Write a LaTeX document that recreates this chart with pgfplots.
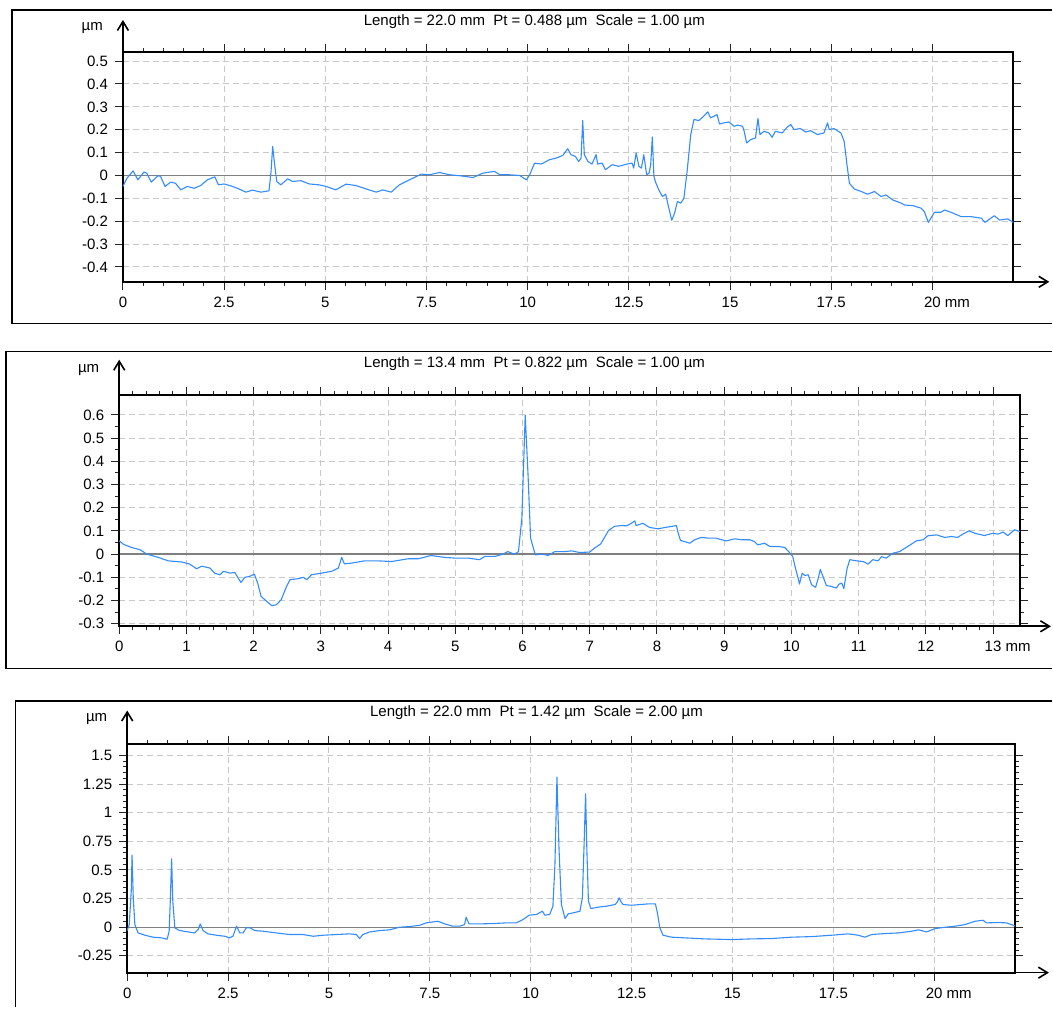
\documentclass[border=0pt]{standalone}
\usepackage{fontspec}
\setmainfont{Liberation Sans}
\usepackage{pgfplots}
\pgfplotsset{compat=1.18}
\usetikzlibrary{arrows.meta}

\definecolor{prof}{RGB}{50,140,255}
\definecolor{gridc}{RGB}{200,200,200}
\newcommand{\lbl}{\fontsize{7.5}{9}\selectfont}

\tikzset{fleche/.style={line width=0.8pt, -{Straight Barb[length=4.5pt,width=5.5pt]}}}
\pgfplotsset{
  profil/.style={
    scale only axis, set layers, clip=false,
    anchor=south west,
    tick align=outside,
    major tick length=4pt, minor tick length=2pt,
    tick style={black!85, line width=0.5pt},
    axis line style={line width=1pt},
    grid=major,
    major grid style={gridc, dash pattern=on 3pt off 2pt, line width=0.5pt},
    ticklabel style={font=\lbl},
    /pgf/number format/assume math mode=true,
    extra y ticks={0}, extra y tick labels={},
    extra y tick style={grid=major, major grid style={solid, gray, line width=0.65pt}, tick style={draw=none}},
  },
  profline/.style={prof, line width=0.55pt, line join=round, no markers},
}

\begin{document}
\begin{tikzpicture}
\path (0,0) rectangle (526.5pt,504pt);

% cadres
\draw[line width=0.7pt] (526.5pt,499pt) -- (6pt,499pt) -- (6pt,342pt) -- (526.5pt,342pt);
\draw[line width=0.7pt] (526.5pt,328pt) -- (3pt,328pt) -- (3pt,169.5pt) -- (526.5pt,169.5pt);
\draw[line width=0.7pt] (526.5pt,153.2pt) -- (7.85pt,153.2pt) -- (7.85pt,0pt);

% profil 1
\begin{axis}[profil,
  at={(61.5pt,363pt)}, width=445.5pt, height=115pt,
  xmin=0, xmax=22, ymin=-0.465, ymax=0.54,
  xtick={0,2.5,...,20}, minor x tick num=4,
  xticklabels={0,2.5,5,7.5,10,12.5,15,17.5,20\rlap{ mm}},
  ytick={-0.4,-0.3,...,0.5},
  yticklabels={-0.4,-0.3,-0.2,-0.1,0,0.1,0.2,0.3,0.4,0.5},
]
\addplot[profline] coordinates {
(0,-0.048)(0.1,-0.012)(0.25,0.02)(0.37,-0.019)(0.52,0.015)(0.59,0.01)(0.70,-0.029)(0.87,-0.001)(0.93,-0.004)(1.04,-0.048)(1.18,-0.029)(1.30,-0.034)(1.43,-0.063)(1.59,-0.048)(1.76,-0.056)(1.92,-0.044)(2.09,-0.019)(2.27,-0.006)(2.36,-0.041)(2.5,-0.037)(2.71,-0.048)(2.87,-0.059)(3.04,-0.073)(3.20,-0.064)(3.41,-0.073)(3.61,-0.067)(3.66,0.018)(3.70,0.127)(3.74,0.061)(3.80,-0.026)(3.90,-0.041)(4.07,-0.015)(4.19,-0.026)(4.40,-0.023)(4.60,-0.037)(4.85,-0.041)(5.02,-0.048)(5.26,-0.063)(5.51,-0.038)(5.76,-0.044)(6.01,-0.059)(6.26,-0.073)(6.42,-0.063)(6.63,-0.073)(6.83,-0.041)(7.0,-0.026)(7.20,-0.009)(7.37,0.006)(7.57,0.003)(7.82,0.013)(8.07,0.003)(8.32,-0.001)(8.65,-0.009)(8.89,0.01)(9.18,0.018)(9.31,0.003)(9.55,0.003)(9.80,0)(9.97,-0.019)(10.05,0.003)(10.17,0.054)(10.34,0.05)(10.54,0.069)(10.71,0.076)(10.87,0.088)(10.99,0.117)(11.07,0.091)(11.18,0.083)(11.26,0.061)(11.32,0.076)(11.36,0.24)(11.40,0.091)(11.49,0.061)(11.59,0.05)(11.69,0.091)(11.73,0.05)(11.84,0.054)(11.92,0.025)(12.09,0.047)(12.25,0.04)(12.46,0.05)(12.58,0.054)(12.62,0.032)(12.68,0.098)(12.75,0.04)(12.81,0.032)(12.87,0.091)(12.94,0.003)(13.0,0.01)(13.04,0.047)(13.08,0.168)(13.12,-0.004)(13.16,-0.029)(13.24,-0.063)(13.33,-0.092)(13.41,-0.082)(13.47,-0.129)(13.56,-0.196)(13.63,-0.165)(13.70,-0.114)(13.78,-0.121)(13.86,-0.1)(13.94,0.018)(14.03,0.179)(14.11,0.245)(14.23,0.24)(14.35,0.259)(14.45,0.278)(14.52,0.252)(14.60,0.259)(14.68,0.266)(14.74,0.225)(14.85,0.23)(14.97,0.234)(15.10,0.215)(15.18,0.22)(15.31,0.215)(15.35,0.193)(15.41,0.142)(15.51,0.157)(15.63,0.164)(15.69,0.249)(15.74,0.179)(15.84,0.193)(15.96,0.186)(16.04,0.167)(16.12,0.193)(16.29,0.186)(16.41,0.211)(16.5,0.223)(16.58,0.201)(16.74,0.205)(16.87,0.19)(16.99,0.196)(17.16,0.179)(17.32,0.186)(17.41,0.23)(17.45,0.201)(17.57,0.205)(17.74,0.186)(17.82,0.149)(17.89,0.047)(17.95,-0.034)(18.07,-0.059)(18.24,-0.07)(18.40,-0.082)(18.57,-0.07)(18.73,-0.092)(18.85,-0.085)(19.02,-0.107)(19.23,-0.121)(19.31,-0.129)(19.52,-0.132)(19.72,-0.143)(19.80,-0.158)(19.90,-0.205)(20.05,-0.161)(20.21,-0.161)(20.30,-0.151)(20.46,-0.161)(20.71,-0.18)(20.96,-0.18)(21.21,-0.187)(21.30,-0.205)(21.53,-0.176)(21.66,-0.195)(21.86,-0.19)(22.0,-0.205)
};
\draw[fleche] (rel axis cs:0,1) -- ++(0pt,16pt);
\draw[fleche] (rel axis cs:1,0) -- ++(18pt,0pt);
\node[anchor=east, font=\lbl] at ([xshift=-6.5pt,yshift=12pt]rel axis cs:0,1) {µm};
\node[font=\lbl] at ([yshift=15pt]rel axis cs:0.462,1) {Length = 22.0 mm\ \ Pt = 0.488 µm\ \ Scale = 1.00 µm};
\end{axis}

% profil 2
\begin{axis}[profil,
  at={(59.65pt,190.65pt)}, width=450.65pt, height=115.85pt,
  xmin=0, xmax=13.4, ymin=-0.311, ymax=0.687,
  xtick={0,1,...,13}, minor x tick num=4,
  xticklabels={0,1,2,3,4,5,6,7,8,9,10,11,12,13\rlap{ mm}},
  ytick={-0.3,-0.2,...,0.6}, minor y tick num=1,
  yticklabels={-0.3,-0.2,-0.1,0,0.1,0.2,0.3,0.4,0.5,0.6},
]
\addplot[profline] coordinates {
(0,0.057)(0.06,0.043)(0.18,0.029)(0.31,0.019)(0.41,0)(0.58,-0.014)(0.73,-0.029)(0.93,-0.034)(1.05,-0.043)(1.15,-0.063)(1.23,-0.052)(1.35,-0.06)(1.42,-0.082)(1.50,-0.089)(1.55,-0.074)(1.65,-0.082)(1.72,-0.079)(1.77,-0.103)(1.81,-0.122)(1.87,-0.1)(1.94,-0.096)(2.01,-0.086)(2.06,-0.125)(2.11,-0.182)(2.18,-0.2)(2.27,-0.222)(2.34,-0.218)(2.41,-0.196)(2.49,-0.139)(2.54,-0.11)(2.66,-0.106)(2.74,-0.1)(2.79,-0.11)(2.86,-0.089)(3.01,-0.082)(3.16,-0.074)(3.26,-0.06)(3.31,-0.014)(3.35,-0.042)(3.45,-0.039)(3.65,-0.029)(3.85,-0.029)(4.05,-0.032)(4.30,-0.02)(4.45,-0.02)(4.64,-0.006)(4.84,-0.014)(4.99,-0.017)(5.19,-0.017)(5.36,-0.024)(5.44,-0.01)(5.59,-0.01)(5.71,0)(5.78,0.011)(5.88,0)(5.94,0.011)(5.99,0.155)(6.04,0.599)(6.08,0.355)(6.12,0.069)(6.19,-0.003)(6.30,0)(6.38,-0.006)(6.48,0.011)(6.63,0.011)(6.73,0.014)(6.85,0.007)(7.0,0.009)(7.07,0.026)(7.16,0.043)(7.22,0.072)(7.28,0.102)(7.37,0.12)(7.47,0.123)(7.55,0.122)(7.62,0.133)(7.67,0.143)(7.69,0.123)(7.79,0.133)(7.89,0.115)(8.02,0.109)(8.12,0.115)(8.21,0.119)(8.29,0.123)(8.31,0.097)(8.35,0.059)(8.41,0.054)(8.49,0.047)(8.56,0.062)(8.66,0.072)(8.76,0.069)(8.88,0.069)(8.96,0.062)(9.03,0.057)(9.16,0.066)(9.26,0.062)(9.38,0.062)(9.45,0.054)(9.50,0.04)(9.60,0.047)(9.68,0.033)(9.80,0.033)(9.90,0.029)(9.96,0.011)(10.02,-0.01)(10.06,-0.06)(10.10,-0.103)(10.12,-0.129)(10.16,-0.082)(10.20,-0.092)(10.25,-0.089)(10.30,-0.132)(10.36,-0.143)(10.40,-0.103)(10.43,-0.066)(10.47,-0.096)(10.52,-0.135)(10.59,-0.139)(10.67,-0.146)(10.71,-0.129)(10.75,-0.125)(10.78,-0.149)(10.83,-0.06)(10.87,-0.024)(10.97,-0.029)(11.07,-0.032)(11.14,-0.043)(11.21,-0.024)(11.29,-0.029)(11.34,-0.011)(11.41,-0.017)(11.51,0.004)(11.61,0.011)(11.73,0.033)(11.86,0.057)(11.96,0.062)(12.03,0.079)(12.16,0.083)(12.28,0.072)(12.38,0.076)(12.47,0.072)(12.55,0.086)(12.64,0.1)(12.73,0.09)(12.87,0.08)(13.0,0.09)(13.07,0.086)(13.15,0.095)(13.22,0.08)(13.32,0.105)(13.40,0.097)
};
\draw[fleche] (rel axis cs:0,1) -- ++(0pt,17.5pt);
\draw[fleche] (rel axis cs:1,0) -- ++(15.5pt,0pt);
\node[anchor=east, font=\lbl] at ([xshift=-6.5pt,yshift=12.5pt]rel axis cs:0,1) {µm};
\node[font=\lbl] at ([yshift=15.5pt]rel axis cs:0.461,1) {Length = 13.4 mm\ \ Pt = 0.822 µm\ \ Scale = 1.00 µm};
\end{axis}

% profil 3
\begin{axis}[profil,
  at={(63.65pt,17.35pt)}, width=444.15pt, height=114.65pt,
  xmin=0, xmax=22, ymin=-0.397, ymax=1.605,
  xtick={0,2.5,...,20}, minor x tick num=4,
  xticklabels={0,2.5,5,7.5,10,12.5,15,17.5,20\rlap{ mm}},
  ytick={-0.25,0,...,1.5}, minor y tick num=4,
  yticklabels={-0.25,0,0.25,0.5,0.75,1,1.25,1.5},
]
\addplot[profline] coordinates {
(0,-0.029)(0.05,0.023)(0.1,0.315)(0.12,0.63)(0.15,0.257)(0.19,0.023)(0.27,-0.05)(0.44,-0.07)(0.64,-0.087)(0.85,-0.093)(0.99,-0.105)(1.04,-0.035)(1.07,0.257)(1.10,0.598)(1.13,0.227)(1.18,-0.006)(1.30,-0.029)(1.51,-0.041)(1.67,-0.05)(1.76,-0.02)(1.81,0.029)(1.88,-0.029)(2.0,-0.058)(2.21,-0.07)(2.42,-0.079)(2.54,-0.093)(2.62,-0.079)(2.71,0.009)(2.79,-0.05)(2.87,-0.05)(2.95,-0.006)(3.05,-0.006)(3.16,-0.029)(3.37,-0.035)(3.70,-0.05)(4.03,-0.064)(4.36,-0.064)(4.61,-0.079)(4.85,-0.07)(5.18,-0.064)(5.51,-0.058)(5.68,-0.064)(5.76,-0.099)(5.84,-0.064)(6.01,-0.041)(6.26,-0.029)(6.50,-0.023)(6.75,0)(7.0,0.006)(7.25,0.017)(7.41,0.038)(7.70,0.052)(7.87,0.029)(8.07,0.009)(8.24,0.009)(8.36,0.023)(8.40,0.087)(8.47,0.029)(8.73,0.029)(9.07,0.032)(9.39,0.038)(9.64,0.038)(9.81,0.067)(9.96,0.105)(10.14,0.111)(10.29,0.14)(10.35,0.105)(10.47,0.111)(10.55,0.184)(10.60,0.548)(10.65,1.312)(10.70,0.694)(10.76,0.198)(10.85,0.076)(10.93,0.117)(11.05,0.125)(11.22,0.14)(11.28,0.257)(11.32,0.694)(11.36,1.166)(11.39,0.694)(11.43,0.227)(11.49,0.163)(11.67,0.175)(11.88,0.184)(12.09,0.198)(12.15,0.222)(12.19,0.257)(12.24,0.222)(12.29,0.198)(12.5,0.192)(12.71,0.198)(12.91,0.204)(13.09,0.204)(13.14,0.125)(13.20,-0.006)(13.28,-0.07)(13.49,-0.087)(13.82,-0.093)(14.32,-0.102)(14.98,-0.108)(15.47,-0.102)(15.97,-0.099)(16.46,-0.087)(16.96,-0.082)(17.45,-0.07)(17.87,-0.058)(18.12,-0.07)(18.28,-0.087)(18.45,-0.064)(18.78,-0.055)(19.11,-0.05)(19.44,-0.035)(19.61,-0.023)(19.81,-0.041)(20.02,-0.012)(20.27,0)(20.52,0.009)(20.76,0.023)(21.01,0.052)(21.21,0.061)(21.29,0.038)(21.58,0.041)(21.79,0.038)(22.0,0.012)
};
\draw[fleche] (rel axis cs:0,1) -- ++(0pt,16.5pt);
\draw[fleche] (rel axis cs:1,0) -- ++(17pt,0pt);
\node[anchor=east, font=\lbl] at ([xshift=-6.5pt,yshift=12.5pt]rel axis cs:0,1) {µm};
\node[font=\lbl] at ([yshift=15.5pt]rel axis cs:0.461,1) {Length = 22.0 mm\ \ Pt = 1.42 µm\ \ Scale = 2.00 µm};
\end{axis}
\end{tikzpicture}
\end{document}
